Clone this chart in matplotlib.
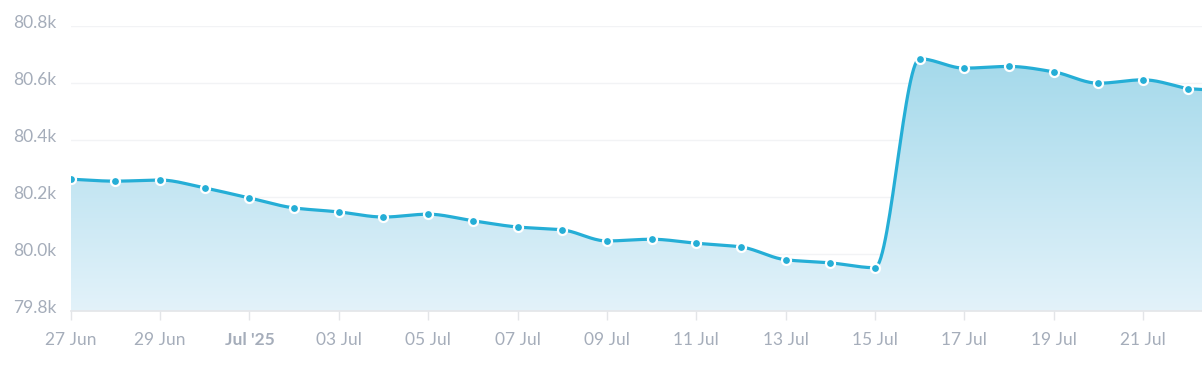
import numpy as np
import matplotlib
matplotlib.use("Agg")
import matplotlib.pyplot as plt
from matplotlib.patches import Polygon

dates = ["27 Jun", "28 Jun", "29 Jun", "30 Jun", "01 Jul", "02 Jul", "03 Jul", "04 Jul",
         "05 Jul", "06 Jul", "07 Jul", "08 Jul", "09 Jul", "10 Jul", "11 Jul", "12 Jul",
         "13 Jul", "14 Jul", "15 Jul", "16 Jul", "17 Jul", "18 Jul", "19 Jul", "20 Jul",
         "21 Jul", "22 Jul"]
values = [80262, 80255, 80259, 80231, 80196, 80161, 80147, 80129,
          80139, 80116, 80094, 80084, 80045, 80051, 80037, 80024,
          79979, 79968, 79951, 80685, 80652, 80658, 80639, 80599,
          80611, 80580]
tick_labels = ["27 Jun", "29 Jun", "Jul '25", "03 Jul", "05 Jul", "07 Jul", "09 Jul",
               "11 Jul", "13 Jul", "15 Jul", "17 Jul", "19 Jul", "21 Jul"]
y_ticks = [79800, 80000, 80200, 80400, 80600, 80800]
y_labels = ["79.8k", "80.0k", "80.2k", "80.4k", "80.6k", "80.8k"]

LINE = "#25aed6"
TEXT = "#a5adba"

def monotone(x, y, n=30):
    x = np.asarray(x, float); y = np.asarray(y, float)
    h = np.diff(x); d = np.diff(y) / h
    m = np.zeros_like(y)
    m[0] = d[0]; m[-1] = d[-1]
    for i in range(1, len(y) - 1):
        if d[i - 1] * d[i] <= 0:
            m[i] = 0
        else:
            w1 = 2 * h[i] + h[i - 1]; w2 = h[i] + 2 * h[i - 1]
            m[i] = (w1 + w2) / (w1 / d[i - 1] + w2 / d[i])
    xs, ys = [], []
    for i in range(len(x) - 1):
        t = np.linspace(0, 1, n, endpoint=False)
        h00 = 2 * t**3 - 3 * t**2 + 1; h10 = t**3 - 2 * t**2 + t
        h01 = -2 * t**3 + 3 * t**2; h11 = t**3 - t**2
        xs.append(x[i] + t * h[i])
        ys.append(h00 * y[i] + h10 * h[i] * m[i] + h01 * y[i + 1] + h11 * h[i] * m[i + 1])
    xs.append([x[-1]]); ys.append([y[-1]])
    return np.concatenate(xs), np.concatenate(ys)

x = np.arange(len(values))
xs, ys = monotone(x, values)
xmax = len(values) - 1 + 0.32
xs = np.append(xs, xmax); ys = np.append(ys, ys[-1] - 3)

fig = plt.figure(figsize=(12.02, 3.72), dpi=100)
ax = fig.add_axes([70.7 / 1202, 1 - 310.7 / 372, 1 - 70.7 / 1202, (310.7 - 26) / 372])
ax.set_xlim(0, xmax)
ax.set_ylim(79800, 80800)

ymin = 79800
grad = np.linspace(1, 0, 256)
top = np.array([0.64, 0.85, 0.92])
bot = np.array([0.89, 0.95, 0.98])
img = np.zeros((256, 1, 3))
for k in range(3):
    img[:, 0, k] = bot[k] + (top[k] - bot[k]) * grad
im = ax.imshow(img, extent=[0, xmax, ymin, 80700], aspect="auto", origin="upper", zorder=1)
poly = Polygon(np.column_stack([np.concatenate([xs, [xmax, 0]]),
                                np.concatenate([ys, [ymin, ymin]])]),
               closed=True, facecolor="none", edgecolor="none")
ax.add_patch(poly)
im.set_clip_path(poly)

for yt in y_ticks[1:]:
    ax.axhline(yt, color="#f2f3f5", lw=1, zorder=0.5)

ax.plot(xs, ys, color=LINE, lw=2.3, zorder=3, solid_capstyle="round")
ax.plot(x, values, "o", ms=6.5, color=LINE, mec="white", mew=1.6, zorder=4)

for s in ["top", "right", "left"]:
    ax.spines[s].set_visible(False)
ax.spines["bottom"].set_color("#e3e5e8")
ax.spines["bottom"].set_linewidth(1.2)

ax.set_xticks(np.arange(0, len(values), 2))
ax.set_xticklabels(tick_labels)
ax.tick_params(axis="x", length=6.5, width=1, color="#e3e5e8", pad=9,
               labelsize=12.5, labelcolor=TEXT)
for lbl in ax.get_xticklabels():
    lbl.set_fontfamily("Lato")
    if lbl.get_text() == "Jul '25":
        lbl.set_fontweight("bold")

ax.set_yticks(y_ticks)
ax.set_yticklabels([])
ax.tick_params(axis="y", length=0)
for yt, yl in zip(y_ticks, y_labels):
    ax.annotate(yl, xy=(0, yt), xycoords=("figure fraction", "data"),
                xytext=(13, 3), textcoords="offset pixels",
                ha="left", va="center", fontsize=12.5, color=TEXT, family="Lato")

fig.savefig("out.png", dpi=100, facecolor="white")
